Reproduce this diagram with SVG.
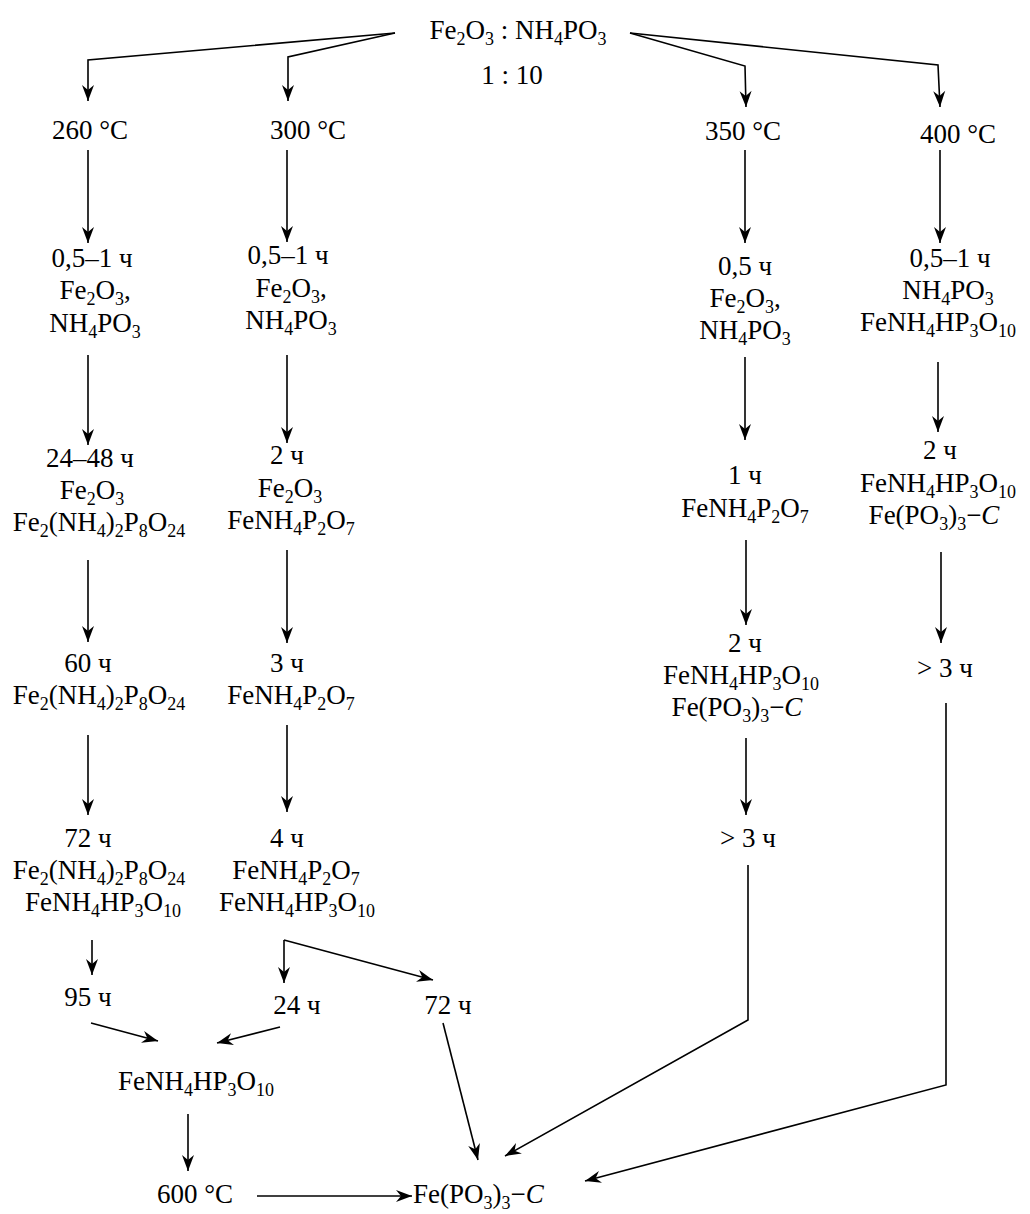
<svg xmlns="http://www.w3.org/2000/svg" width="1030" height="1214" viewBox="0 0 1030 1214">
<style>
text{font-family:"Liberation Serif","Times New Roman",serif;font-size:27px;fill:#000;text-anchor:middle}
.s{font-size:18px;baseline-shift:-6px}
.i{font-style:italic}
.st{text-anchor:start}
.c path,.c polyline,.c line{fill:none;stroke:#000;stroke-width:1.6}
</style>
<defs>
<marker id="ah" markerUnits="userSpaceOnUse" markerWidth="20" markerHeight="14" viewBox="-17 -7 19 14" refX="0" refY="0" orient="auto">
<path d="M0,0 L-16,-6 L-11,0 L-16,6 Z" fill="#000"/>
</marker>
</defs>
<rect width="1030" height="1214" fill="#fff"/>
<g id="connectors" class="c">
<polyline points="395,33 88,60 88,101" marker-end="url(#ah)"/>
<polyline points="395,33 288,57 288,101" marker-end="url(#ah)"/>
<polyline points="630,33 745,66 746,107" marker-end="url(#ah)"/>
<polyline points="630,33 938,65 940,107" marker-end="url(#ah)"/>
<line x1="88" y1="150" x2="88" y2="243" marker-end="url(#ah)"/>
<line x1="287" y1="150" x2="287" y2="242" marker-end="url(#ah)"/>
<line x1="745" y1="150" x2="745" y2="243" marker-end="url(#ah)"/>
<line x1="940" y1="150" x2="940" y2="243" marker-end="url(#ah)"/>
<line x1="88" y1="355" x2="88" y2="445" marker-end="url(#ah)"/>
<line x1="287" y1="355" x2="287" y2="443" marker-end="url(#ah)"/>
<line x1="745" y1="357" x2="745" y2="440" marker-end="url(#ah)"/>
<line x1="938" y1="362" x2="938" y2="432" marker-end="url(#ah)"/>
<line x1="88" y1="560" x2="88" y2="642" marker-end="url(#ah)"/>
<line x1="287" y1="550" x2="287" y2="643" marker-end="url(#ah)"/>
<line x1="746" y1="540" x2="746" y2="625" marker-end="url(#ah)"/>
<line x1="941" y1="552" x2="941" y2="643" marker-end="url(#ah)"/>
<line x1="88" y1="735" x2="88" y2="815" marker-end="url(#ah)"/>
<line x1="287" y1="725" x2="287" y2="812" marker-end="url(#ah)"/>
<line x1="746" y1="738" x2="746" y2="815" marker-end="url(#ah)"/>
<polyline points="748,865 748,1020 505,1156" marker-end="url(#ah)"/>
<polyline points="946,703 946,1085 585,1181" marker-end="url(#ah)"/>
<line x1="92" y1="940" x2="92" y2="975" marker-end="url(#ah)"/>
<polyline points="284,940 284,983" marker-end="url(#ah)"/>
<polyline points="284,940 433,980" marker-end="url(#ah)"/>
<line x1="91" y1="1023" x2="158" y2="1041" marker-end="url(#ah)"/>
<line x1="280" y1="1027" x2="217" y2="1043" marker-end="url(#ah)"/>
<line x1="443" y1="1023" x2="478" y2="1160" marker-end="url(#ah)"/>
<line x1="188" y1="1114" x2="188" y2="1171" marker-end="url(#ah)"/>
<line x1="257" y1="1196" x2="412" y2="1196" marker-end="url(#ah)"/>
</g>
<g id="start">
<text x="518" y="39">Fe<tspan class="s">2</tspan>O<tspan class="s">3</tspan> : NH<tspan class="s">4</tspan>PO<tspan class="s">3</tspan></text>
<text x="512" y="84">1 : 10</text>
</g>
<g id="t260"><text x="90" y="139">260 °C</text></g>
<g id="t300"><text x="308" y="139">300 °C</text></g>
<g id="t350"><text x="743" y="140">350 °C</text></g>
<g id="t400"><text x="958" y="143">400 °C</text></g>
<g id="c1n1">
<text x="92" y="267">0,5–1 ч</text>
<text x="95" y="299">Fe<tspan class="s">2</tspan>O<tspan class="s">3</tspan>,</text>
<text x="95" y="332">NH<tspan class="s">4</tspan>PO<tspan class="s">3</tspan></text>
</g>
<g id="c2n1">
<text x="288" y="264">0,5–1 ч</text>
<text x="291" y="297">Fe<tspan class="s">2</tspan>O<tspan class="s">3</tspan>,</text>
<text x="291" y="329">NH<tspan class="s">4</tspan>PO<tspan class="s">3</tspan></text>
</g>
<g id="c3n1">
<text x="745" y="275">0,5 ч</text>
<text x="745" y="307">Fe<tspan class="s">2</tspan>O<tspan class="s">3</tspan>,</text>
<text x="745" y="339">NH<tspan class="s">4</tspan>PO<tspan class="s">3</tspan></text>
</g>
<g id="c4n1">
<text x="950" y="267">0,5–1 ч</text>
<text x="948" y="299">NH<tspan class="s">4</tspan>PO<tspan class="s">3</tspan></text>
<text x="938" y="331">FeNH<tspan class="s">4</tspan>HP<tspan class="s">3</tspan>O<tspan class="s">10</tspan></text>
</g>
<g id="c1n2">
<text x="90" y="467">24–48 ч</text>
<text x="92" y="499">Fe<tspan class="s">2</tspan>O<tspan class="s">3</tspan></text>
<text x="99" y="531">Fe<tspan class="s">2</tspan>(NH<tspan class="s">4</tspan>)<tspan class="s">2</tspan>P<tspan class="s">8</tspan>O<tspan class="s">24</tspan></text>
</g>
<g id="c2n2">
<text x="287" y="464">2 ч</text>
<text x="290" y="497">Fe<tspan class="s">2</tspan>O<tspan class="s">3</tspan></text>
<text x="291" y="529">FeNH<tspan class="s">4</tspan>P<tspan class="s">2</tspan>O<tspan class="s">7</tspan></text>
</g>
<g id="c3n2">
<text x="745" y="484">1 ч</text>
<text x="745" y="517">FeNH<tspan class="s">4</tspan>P<tspan class="s">2</tspan>O<tspan class="s">7</tspan></text>
</g>
<g id="c4n2">
<text x="940" y="459">2 ч</text>
<text x="938" y="492">FeNH<tspan class="s">4</tspan>HP<tspan class="s">3</tspan>O<tspan class="s">10</tspan></text>
<text x="934" y="524">Fe(PO<tspan class="s">3</tspan>)<tspan class="s">3</tspan>−<tspan class="i">C</tspan></text>
</g>
<g id="c1n3">
<text x="88" y="672">60 ч</text>
<text x="99" y="704">Fe<tspan class="s">2</tspan>(NH<tspan class="s">4</tspan>)<tspan class="s">2</tspan>P<tspan class="s">8</tspan>O<tspan class="s">24</tspan></text>
</g>
<g id="c2n3">
<text x="287" y="672">3 ч</text>
<text x="291" y="704">FeNH<tspan class="s">4</tspan>P<tspan class="s">2</tspan>O<tspan class="s">7</tspan></text>
</g>
<g id="c3n3">
<text x="745" y="652">2 ч</text>
<text x="741" y="684">FeNH<tspan class="s">4</tspan>HP<tspan class="s">3</tspan>O<tspan class="s">10</tspan></text>
<text x="737" y="716">Fe(PO<tspan class="s">3</tspan>)<tspan class="s">3</tspan>−<tspan class="i">C</tspan></text>
</g>
<g id="c4n3"><text x="945" y="677">&gt; 3 ч</text></g>
<g id="c1n4">
<text x="88" y="847">72 ч</text>
<text x="99" y="879">Fe<tspan class="s">2</tspan>(NH<tspan class="s">4</tspan>)<tspan class="s">2</tspan>P<tspan class="s">8</tspan>O<tspan class="s">24</tspan></text>
<text x="103" y="911">FeNH<tspan class="s">4</tspan>HP<tspan class="s">3</tspan>O<tspan class="s">10</tspan></text>
</g>
<g id="c2n4">
<text x="287" y="847">4 ч</text>
<text x="296" y="879">FeNH<tspan class="s">4</tspan>P<tspan class="s">2</tspan>O<tspan class="s">7</tspan></text>
<text x="297" y="911">FeNH<tspan class="s">4</tspan>HP<tspan class="s">3</tspan>O<tspan class="s">10</tspan></text>
</g>
<g id="c3n4"><text x="748" y="847">&gt; 3 ч</text></g>
<g id="h95"><text x="88" y="1006">95 ч</text></g>
<g id="h24"><text x="297" y="1014">24 ч</text></g>
<g id="h72"><text x="448" y="1014">72 ч</text></g>
<g id="mid"><text x="196" y="1090">FeNH<tspan class="s">4</tspan>HP<tspan class="s">3</tspan>O<tspan class="s">10</tspan></text></g>
<g id="t600"><text x="195" y="1203">600 °C</text></g>
<g id="final"><text class="st" x="413" y="1203">Fe(PO<tspan class="s">3</tspan>)<tspan class="s">3</tspan>−<tspan class="i">C</tspan></text></g>
</svg>
